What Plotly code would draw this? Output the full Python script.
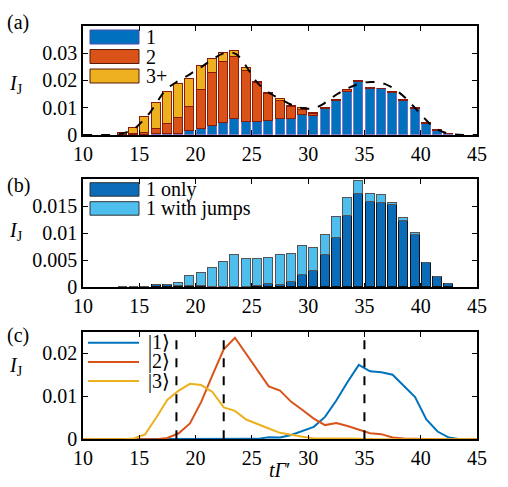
import plotly.graph_objects as go

# ---------------- data ----------------
t_bins = [13.5, 14.5, 15.5, 16.5, 17.5, 18.5, 19.5, 20.5, 21.5, 22.5, 23.5, 24.5, 25.5,
          26.5, 27.5, 28.5, 29.5, 30.5, 31.5, 32.5, 33.5, 34.5, 35.5, 36.5, 37.5, 38.5,
          39.5, 40.5, 41.5, 42.5]

# panel (a): stacked contributions
a_state1 = [0, 0, 0.0001, 0.0004, 0.0006, 0.0004, 0.0016, 0.0024, 0.0033, 0.0045, 0.0058,
            0.0048, 0.0048, 0.0052, 0.0058, 0.0060, 0.0076, 0.0069, 0.0096, 0.0127, 0.0160,
            0.0194, 0.0169, 0.0168, 0.0154, 0.0127, 0.0097, 0.0043, 0.0017, 0.0004]
a_state2 = [0.0002, 0.0004, 0.0009, 0.0018, 0.0036, 0.0060, 0.0089, 0.0143, 0.0194, 0.0224,
            0.0229, 0.0188, 0.0145, 0.0100, 0.0069, 0.0044, 0.0017, 0.0010, 0.0003, 0.0004,
            0.0004, 0.0004, 0.0004, 0.0003, 0.0004, 0.0003, 0.0002, 0.0002, 0.0001, 0.0]
a_state3 = [0.0008, 0.0023, 0.0057, 0.0096, 0.0118, 0.0124, 0.0102, 0.0085, 0.0051, 0.0031,
            0.0020, 0.0012, 0.0003, 0.0003, 0.0005, 0.0005, 0.0006, 0.0002, 0.0, 0.0,
            0.0, 0.0, 0.0, 0.0, 0.0, 0.0, 0.0, 0.0, 0.0, 0.0]

# dashed envelope in (a)
t_fit = [10, 12, 13, 14, 14.6, 15.3, 16, 16.6, 17.2, 17.8, 18.4, 19.2, 19.9, 20.5, 21.1, 21.7,
         22.3, 22.8, 23.2, 23.6, 24, 24.6, 25.2, 25.8, 26.4, 27, 27.6, 28.2, 28.8, 29.4, 30,
         30.5, 31, 31.4, 32, 32.6, 33.2, 33.8, 34.4, 35, 35.6, 36.2, 36.8, 37.4, 38, 38.6,
         39.2, 39.8, 40.4, 41, 41.6, 42.2, 43, 44, 45]
y_fit = [0, 0, 0.0002, 0.0012, 0.0024, 0.0052, 0.0085, 0.0122, 0.0158, 0.0180, 0.0196, 0.0215,
         0.0233, 0.0248, 0.0266, 0.0282, 0.0296, 0.0302, 0.0302, 0.0296, 0.0281, 0.0245,
         0.0206, 0.0178, 0.0158, 0.0143, 0.0130, 0.0117, 0.0105, 0.0099, 0.0096, 0.0097,
         0.0106, 0.0115, 0.0133, 0.0150, 0.0164, 0.0176, 0.0186, 0.0192, 0.0194, 0.0193,
         0.0187, 0.0175, 0.0158, 0.0137, 0.0112, 0.0085, 0.0058, 0.0034, 0.0018, 0.0008,
         0.0002, 0, 0]

# panel (b)
b_total = [0, 0, 0, 0.0004, 0.0004, 0.0007, 0.0020, 0.0026, 0.0035, 0.0047, 0.0059, 0.0051,
           0.0051, 0.0054, 0.0060, 0.0061, 0.0076, 0.0073, 0.0096, 0.0130, 0.0165, 0.0197,
           0.0172, 0.0170, 0.0155, 0.0128, 0.0100, 0.0045, 0.0018, 0.0005]
b_only = [0, 0, 0, 0.0003, 0.0003, 0.0001, 0.0001, 0.0001, 0, 0, 0, 0, 0.0001, 0.0005,
          0.0003, 0.0010, 0.0022, 0.0030, 0.0060, 0.0090, 0.0132, 0.0172, 0.0158, 0.0155,
          0.0151, 0.0123, 0.0097, 0.0045, 0.0018, 0.0005]
b_jumps = [round(tt - oo, 5) for tt, oo in zip(b_total, b_only)]

# panel (c)
t_c = [10, 10.5, 11.5, 12.5, 13.5, 14.5, 15.5, 16.5, 17.5, 18.5, 19.5, 20.5, 21.5, 22.5, 23.5,
       24.5, 25.5, 26.5, 27.5, 28.5, 29.5, 30.5, 31.5, 32.5, 33.5, 34.5, 35.5, 36.5, 37.5,
       38.5, 39.5, 40.5, 41.5, 42.5, 43.5, 44.5, 45]
c_ket1 = [0, 0, 0, 0, 0, 0, 0, 0, 0, 0, 0, 0, 0, 0, 0, 0, 0.0001, 0.0005, 0.0004, 0.0010,
          0.0019, 0.0029, 0.0052, 0.0090, 0.0133, 0.0173, 0.0158, 0.0156, 0.0150, 0.0125,
          0.0098, 0.0046, 0.0018, 0.0004, 0, 0, 0]
c_ket2 = [0, 0, 0, 0, 0, 0, 0, 0, 0.0003, 0.0014, 0.0037, 0.0087, 0.0149, 0.0209, 0.0236,
          0.0198, 0.0159, 0.0123, 0.0113, 0.0087, 0.0068, 0.0048, 0.0033, 0.0038, 0.0031,
          0.0023, 0.0014, 0.0012, 0.0004, 0.0002, 0.0001, 0, 0, 0, 0, 0, 0]
c_ket3 = [0, 0, 0, 0, 0, 0.0002, 0.0011, 0.0050, 0.0092, 0.0113, 0.0129, 0.0126, 0.0110,
          0.0074, 0.0066, 0.0046, 0.0035, 0.0025, 0.0015, 0.0010, 0.0006, 0.0002, 0.0002,
          0.0003, 0.0002, 0.0001, 0, 0, 0, 0, 0, 0, 0, 0, 0, 0, 0]
c_vlines = [18.3, 22.5, 35.0]

x_ticks = [10, 15, 20, 25, 30, 35, 40, 45]
a_yticks = [0, 0.01, 0.02, 0.03]
a_yticklabels = ["0", "0.01", "0.02", "0.03"]
b_yticks = [0, 0.005, 0.01, 0.015]
b_yticklabels = ["0", "0.005", "0.01", "0.015"]
c_yticks = [0, 0.01, 0.02]
c_yticklabels = ["0", "0.01", "0.02"]

a_legend = ["1", "2", "3+"]
b_legend = ["1 only", "1 with jumps"]
c_legend = ["|1⟩", "|2⟩", "|3⟩"]

# ---------------- style ----------------
W, H = 508, 487
BLUE = "#0072BD"
ORANGE = "#D95319"
YELLOW = "#EDB120"
LBLUE = "#4DBEEE"
DBLUE = "#0a6cb8"
FONT = "Liberation Serif, DejaVu Serif, serif"
FS = 20

def px(x):
    return x / W

def py(y):
    return 1 - y / H

X0, X1 = 83, 477
panels = {"a": (25.7, 135.0), "b": (179.3, 287.3), "c": (331.7, 439.3)}

fig = go.Figure()

# (a) bars
for vals, col, edge in [(a_state1, BLUE, "rgba(120,110,200,0.9)"),
                        (a_state2, ORANGE, "#8a1a0a"),
                        (a_state3, YELLOW, "#8a1a0a")]:
    fig.add_trace(go.Bar(x=t_bins, y=vals, width=0.8, marker=dict(color=col, line=dict(color=edge, width=1)),
                         xaxis="x", yaxis="y", showlegend=False))
fig.add_trace(go.Scatter(x=t_fit, y=y_fit, mode="lines", line=dict(color="black", width=2, dash="dash", shape="spline"),
                         xaxis="x", yaxis="y", showlegend=False))

# (b) bars
fig.add_trace(go.Bar(x=t_bins, y=b_only, width=0.8, marker=dict(color=DBLUE, line=dict(color="#111111", width=1)),
                     xaxis="x2", yaxis="y2", showlegend=False))
fig.add_trace(go.Bar(x=t_bins, y=b_jumps, width=0.8, marker=dict(color=LBLUE, line=dict(color="#555555", width=1)),
                     xaxis="x2", yaxis="y2", showlegend=False))

# (c) lines
for vals, col in [(c_ket1, BLUE), (c_ket2, ORANGE), (c_ket3, YELLOW)]:
    fig.add_trace(go.Scatter(x=t_c, y=vals, mode="lines", line=dict(color=col, width=2),
                             xaxis="x3", yaxis="y3", showlegend=False))

shapes = []
for xv in c_vlines:
    shapes.append(dict(type="line", xref="x3", yref="y3 domain", x0=xv, x1=xv, y0=0, y1=1,
                       line=dict(color="black", width=2, dash="dash")))

annotations = []
# custom legends
for i, (lab, col, edge) in enumerate(zip(a_legend, [BLUE, ORANGE, YELLOW], ["#4a4ab0", "#5a1a0a", "#5a1a0a"])):
    top = 30 + i * 19.5
    shapes.append(dict(type="rect", xref="paper", yref="paper", x0=px(90), x1=px(139), y0=py(top + 14), y1=py(top),
                       fillcolor=col, line=dict(color=edge, width=1)))
    annotations.append(dict(text=lab, xref="paper", yref="paper", x=px(144), y=py(top + 7), xanchor="left",
                            yanchor="middle", showarrow=False,
                            font=dict(family=FONT, size=FS, color="black")))
for i, (lab, col) in enumerate(zip(b_legend, [DBLUE, LBLUE])):
    top = 182.7 + i * 19
    shapes.append(dict(type="rect", xref="paper", yref="paper", x0=px(90), x1=px(139), y0=py(top + 13.5), y1=py(top),
                       fillcolor=col, line=dict(color="#333333", width=1)))
    annotations.append(dict(text=lab, xref="paper", yref="paper", x=px(144), y=py(top + 7), xanchor="left",
                            yanchor="middle", showarrow=False,
                            font=dict(family=FONT, size=FS, color="black")))
for i, (lab, col) in enumerate(zip(c_legend, [BLUE, ORANGE, YELLOW])):
    yy = 342.7 + i * 19.2
    shapes.append(dict(type="line", xref="paper", yref="paper", x0=px(88), x1=px(139), y0=py(yy), y1=py(yy),
                       line=dict(color=col, width=2)))
    annotations.append(dict(text=lab, xref="paper", yref="paper", x=px(146), y=py(yy), xanchor="left",
                            yanchor="middle", showarrow=False,
                            font=dict(family=FONT, size=FS, color="black")))

# panel letters and y labels
for lab, yy in [("(a)", 22), ("(b)", 185), ("(c)", 335)]:
    annotations.append(dict(text=lab, xref="paper", yref="paper", x=px(18), y=py(yy), xanchor="center",
                            yanchor="middle", showarrow=False, font=dict(family=FONT, size=FS, color="black")))
for yy in [84, 231, 366]:
    annotations.append(dict(text="<i>I</i><sub>J</sub>", xref="paper", yref="paper", x=px(16), y=py(yy),
                            xanchor="center", yanchor="middle", showarrow=False,
                            font=dict(family=FONT, size=FS, color="black")))
annotations.append(dict(text="<i>t</i><i>Γ</i>′", xref="paper", yref="paper", x=px(279), y=py(470),
                        xanchor="center", yanchor="middle", showarrow=False,
                        font=dict(family=FONT, size=FS, color="black")))

def xax(anchor, top, bot):
    return dict(domain=[px(X0), px(X1)], anchor=anchor, range=[10, 45], tickvals=x_ticks,
                ticks="inside", ticklen=5, tickcolor="black", tickwidth=1.2,
                showline=True, linecolor="black", linewidth=1.6, mirror="ticks",
                showgrid=False, zeroline=False, automargin=False,
                tickfont=dict(family=FONT, size=FS, color="black"))

def yax(anchor, top, bot, rng, tv, tt):
    return dict(domain=[py(bot), py(top)], anchor=anchor, range=rng, tickvals=tv, ticktext=tt,
                ticks="inside", ticklen=5, tickcolor="black", tickwidth=1.2,
                showline=True, linecolor="black", linewidth=1.6, mirror="ticks",
                showgrid=False, zeroline=False, automargin=False,
                tickfont=dict(family=FONT, size=FS, color="black"))

fig.update_layout(
    width=W, height=H, margin=dict(l=0, r=0, t=0, b=0, autoexpand=False),
    paper_bgcolor="white", plot_bgcolor="white",
    barmode="stack", bargap=0,
    xaxis=xax("y", *panels["a"]),
    yaxis=yax("x", *panels["a"], [0, 0.04], a_yticks, a_yticklabels),
    xaxis2=xax("y2", *panels["b"]),
    yaxis2=yax("x2", *panels["b"], [0, 0.02], b_yticks, b_yticklabels),
    xaxis3=xax("y3", *panels["c"]),
    yaxis3=yax("x3", *panels["c"], [0, 0.025], c_yticks, c_yticklabels),
    shapes=shapes, annotations=annotations,
    font=dict(family=FONT, size=FS, color="black"),
)

fig.write_html("out.html")
